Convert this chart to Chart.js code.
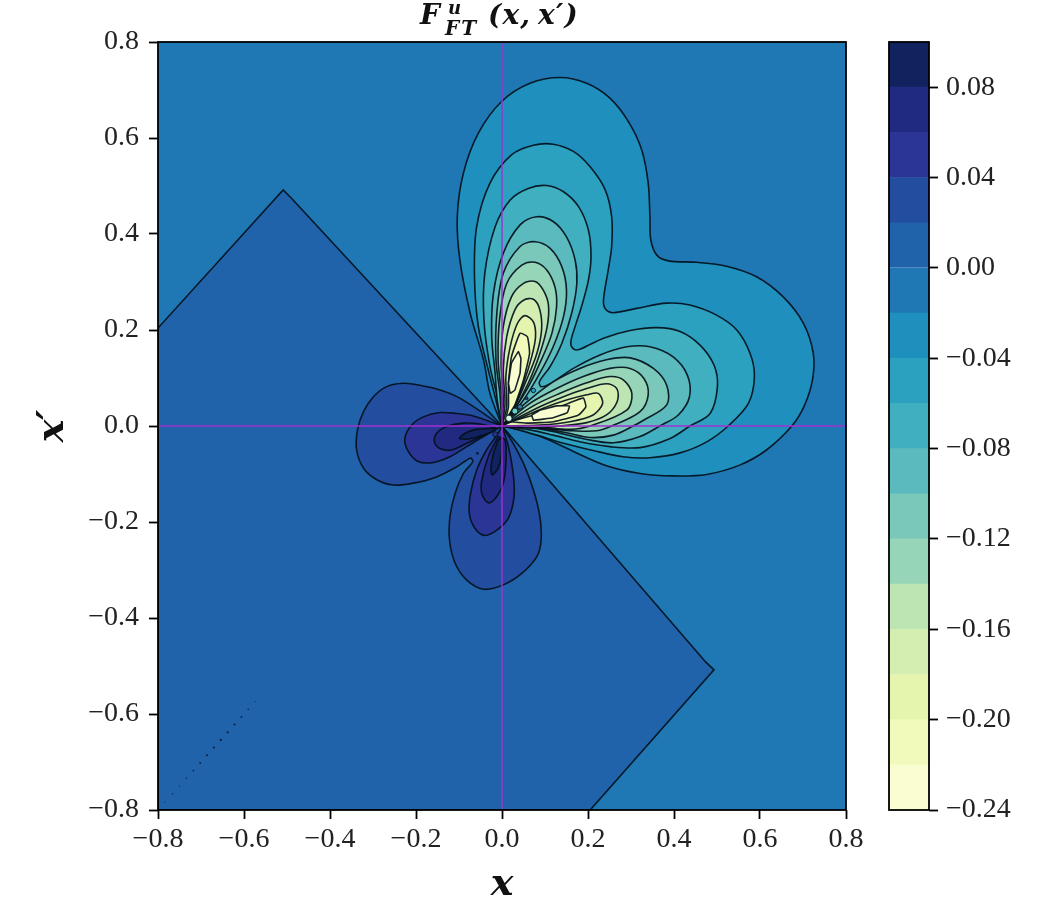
<!DOCTYPE html>
<html>
<head>
<meta charset="utf-8">
<title>F_FT^u contour plot</title>
<script src="https://cdn.jsdelivr.net/npm/chart.js@4"></script>
<style>
  html, body { margin: 0; padding: 0; background: #fff; }
  body { position: relative; width: 1053px; height: 921px; overflow: hidden; }
  canvas { position: absolute; top: 0; }
  #plot { left: 0; }
  #cbar { left: 880px; }
  #title { position: absolute; left: 420px; top: 0; height: 40px; font: italic bold 28px "DejaVu Serif", serif; color: #111; white-space: nowrap; line-height: 34px; }
  #title span { position: absolute; }
</style>
</head>
<body>
<canvas id="plot" width="888" height="921"></canvas>
<canvas id="cbar" width="173" height="921"></canvas>
<div id="title">
  <span style="left:0;top:-2px">F</span>
  <span style="left:28px;top:-1px;font-size:18px;line-height:18px">u</span>
  <span style="left:25px;top:18px;font-size:20px;line-height:20px;letter-spacing:2px">FT</span>
  <span style="left:68px;top:-2px;letter-spacing:1.2px">(x,&#8201;x&#8242;)</span>
</div>
<script>
// axis ticks
const xTicks = [-0.8, -0.6, -0.4, -0.2, 0, 0.2, 0.4, 0.6, 0.8];
const yTicks = [-0.8, -0.6, -0.4, -0.2, 0, 0.2, 0.4, 0.6, 0.8];
const cbarTicks = [-0.24, -0.20, -0.16, -0.12, -0.08, -0.04, 0, 0.04, 0.08];

// colorbar bands, bottom to top
const cbarLevels = [-0.24, -0.22, -0.20, -0.18, -0.16, -0.14, -0.12, -0.10, -0.08, -0.06, -0.04, -0.02, 0, 0.02, 0.04, 0.06, 0.08, 0.10];
const cbarColors = ['#fafdd2', '#f1fabb', '#e6f5ad', '#d4eeb2', '#bde5b4', '#96d5b7', '#79c8b9', '#5bbabd', '#40b0c0', '#2ca1bf', '#1f8fbd', '#1f78b4', '#2063aa', '#234d9e', '#2a3595', '#1f2a80', '#10235f'];

// contour lines, as [x, x'] pairs
const contourZero = [[-0.8, 0.204], [-0.509, 0.492], [-0.488, 0.473], [0, 0], [0.474, -0.492], [0.493, -0.508], [0.205, -0.8], [-0.8, -0.8], [-0.8, 0.204]];

const contourP02 = [[0, 0], [-0.098, 0.058], [-0.144, 0.075], [-0.191, 0.085], [-0.229, 0.089], [-0.268, 0.082], [-0.299, 0.061], [-0.322, 0.030], [-0.336, -0.008], [-0.338, -0.050], [-0.322, -0.088], [-0.291, -0.112], [-0.253, -0.123], [-0.206, -0.119], [-0.152, -0.106], [-0.105, -0.085], [-0.074, -0.067], [-0.068, -0.074], [-0.090, -0.099], [-0.109, -0.140], [-0.121, -0.189], [-0.122, -0.238], [-0.109, -0.286], [-0.082, -0.321], [-0.043, -0.340], [0.003, -0.331], [0.046, -0.307], [0.081, -0.272], [0.091, -0.238], [0.088, -0.189], [0.073, -0.133], [0.050, -0.078], [0.026, -0.036], [0, 0]];
const contourP04Left = [[0, 0], [-0.067, 0.021], [-0.105, 0.026], [-0.144, 0.028], [-0.183, 0.019], [-0.210, 0.002], [-0.226, -0.026], [-0.218, -0.053], [-0.195, -0.074], [-0.160, -0.076], [-0.121, -0.064], [-0.082, -0.043], [-0.043, -0.022], [0, 0]];
const contourP04Down = [[0, 0], [-0.012, -0.019], [-0.036, -0.050], [-0.059, -0.092], [-0.073, -0.140], [-0.076, -0.182], [-0.063, -0.213], [-0.040, -0.228], [-0.012, -0.217], [0.015, -0.192], [0.028, -0.147], [0.026, -0.099], [0.015, -0.043], [0, 0]];
const contourP06Left = [[-0.012, -0.005], [-0.051, 0.004], [-0.090, 0.006], [-0.129, -0.001], [-0.152, -0.015], [-0.157, -0.033], [-0.144, -0.047], [-0.117, -0.050], [-0.082, -0.036], [-0.043, -0.019], [-0.012, -0.005]];
const contourP06Down = [[-0.009, -0.022], [-0.032, -0.064], [-0.047, -0.113], [-0.047, -0.140], [-0.032, -0.160], [-0.012, -0.147], [0.003, -0.119], [0.009, -0.078], [0.007, -0.029], [-0.009, -0.022]];
const contourP08Left = [[-0.016, -0.005], [-0.059, -0.007], [-0.086, -0.015], [-0.099, -0.026], [-0.078, -0.027], [-0.043, -0.019], [-0.016, -0.008], [-0.016, -0.005]];
const contourP08Down = [[-0.009, -0.029], [-0.020, -0.057], [-0.026, -0.092], [-0.022, -0.102], [-0.009, -0.088], [-0.001, -0.057], [-0.001, -0.026], [-0.009, -0.029]];

const contourM02 = [[0, 0], [-0.028, 0.068], [-0.043, 0.138], [-0.074, 0.235], [-0.098, 0.346], [-0.104, 0.436], [-0.090, 0.526], [-0.055, 0.610], [-0.001, 0.676], [0.065, 0.714], [0.135, 0.726], [0.197, 0.714], [0.251, 0.683], [0.294, 0.634], [0.325, 0.575], [0.340, 0.506], [0.344, 0.436], [0.346, 0.388], [0.360, 0.356], [0.387, 0.344], [0.453, 0.341], [0.522, 0.333], [0.592, 0.311], [0.654, 0.269], [0.701, 0.214], [0.724, 0.151], [0.722, 0.096], [0.703, 0.042], [0.674, 0], [0.615, -0.050], [0.554, -0.081], [0.476, -0.101], [0.398, -0.104], [0.321, -0.099], [0.243, -0.083], [0.166, -0.053], [0.096, -0.024], [0.042, -0.008], [0, 0]];
const contourM04 = [[0, 0], [-0.016, 0.061], [-0.032, 0.117], [-0.055, 0.207], [-0.064, 0.311], [-0.059, 0.415], [-0.028, 0.506], [0.022, 0.565], [0.073, 0.585], [0.119, 0.587], [0.166, 0.572], [0.205, 0.540], [0.240, 0.492], [0.255, 0.436], [0.255, 0.374], [0.247, 0.325], [0.236, 0.262], [0.241, 0.243], [0.259, 0.236], [0.313, 0.245], [0.383, 0.256], [0.437, 0.252], [0.499, 0.231], [0.546, 0.200], [0.577, 0.151], [0.587, 0.103], [0.573, 0.047], [0.526, 0], [0.476, -0.033], [0.414, -0.056], [0.344, -0.066], [0.282, -0.064], [0.212, -0.051], [0.143, -0.036], [0.081, -0.019], [0.034, -0.007], [0, 0]];
const contourM06 = [[0, 0], [-0.009, 0.054], [-0.028, 0.124], [-0.042, 0.221], [-0.040, 0.318], [-0.016, 0.415], [0.019, 0.471], [0.061, 0.495], [0.104, 0.501], [0.143, 0.488], [0.178, 0.457], [0.201, 0.408], [0.207, 0.353], [0.201, 0.304], [0.185, 0.249], [0.170, 0.207], [0.160, 0.174], [0.167, 0.160], [0.181, 0.160], [0.236, 0.183], [0.298, 0.199], [0.360, 0.205], [0.414, 0.197], [0.460, 0.169], [0.493, 0.127], [0.501, 0.082], [0.484, 0.026], [0.437, 0], [0.391, -0.026], [0.321, -0.045], [0.251, -0.043], [0.181, -0.033], [0.119, -0.019], [0.065, -0.008], [0, 0]];
const contourM08 = [[0, 0], [-0.011, 0.054], [-0.016, 0.110], [-0.024, 0.186], [-0.020, 0.276], [0.003, 0.360], [0.042, 0.419], [0.081, 0.436], [0.119, 0.426], [0.150, 0.394], [0.170, 0.346], [0.174, 0.297], [0.162, 0.235], [0.139, 0.172], [0.112, 0.124], [0.087, 0.092], [0.091, 0.082], [0.112, 0.088], [0.166, 0.120], [0.228, 0.148], [0.290, 0.165], [0.344, 0.165], [0.398, 0.144], [0.431, 0.106], [0.436, 0.061], [0.410, 0.023], [0.367, 0], [0.321, -0.022], [0.259, -0.035], [0.197, -0.028], [0.135, -0.015], [0.081, -0.005], [0, 0]];

const contourM10Up = [[0, 0], [-0.005, 0.068], [-0.014, 0.138], [-0.012, 0.235], [0.003, 0.318], [0.042, 0.374], [0.077, 0.384], [0.112, 0.370], [0.139, 0.332], [0.150, 0.283], [0.143, 0.228], [0.119, 0.165], [0.088, 0.110], [0.050, 0.054], [0, 0]];
const contourM10Right = [[0, 0], [0.050, 0.044], [0.119, 0.092], [0.181, 0.120], [0.243, 0.138], [0.298, 0.142], [0.352, 0.120], [0.383, 0.085], [0.383, 0.044], [0.329, 0.012], [0.305, 0], [0.259, -0.019], [0.205, -0.024], [0.150, -0.014], [0.096, -0.006], [0.042, -0.002], [0, 0]];
const contourM12Up = [[0, 0], [-0.001, 0.061], [-0.009, 0.138], [-0.005, 0.228], [0.011, 0.297], [0.046, 0.335], [0.077, 0.341], [0.104, 0.325], [0.123, 0.290], [0.127, 0.249], [0.116, 0.193], [0.088, 0.131], [0.057, 0.075], [0.011, 0.012], [0, 0]];
const contourM12Right = [[0, 0], [0.065, 0.047], [0.127, 0.078], [0.189, 0.103], [0.251, 0.120], [0.298, 0.120], [0.330, 0.099], [0.340, 0.065], [0.321, 0.030], [0.255, 0], [0.220, -0.010], [0.166, -0.010], [0.112, -0.006], [0.057, -0.001], [0, 0]];
const contourM14Up = [[0, 0], [0.003, 0.054], [-0.002, 0.131], [0.003, 0.207], [0.022, 0.269], [0.050, 0.297], [0.077, 0.301], [0.096, 0.283], [0.108, 0.252], [0.105, 0.207], [0.088, 0.151], [0.061, 0.089], [0.019, 0.019], [0, 0]];
const contourM14Right = [[0, 0], [0.077, 0.044], [0.135, 0.068], [0.197, 0.090], [0.251, 0.103], [0.282, 0.096], [0.302, 0.068], [0.290, 0.033], [0.205, 0], [0.158, -0.007], [0.096, -0.003], [0.042, -0.001], [0, 0]];
const contourM16Up = [[0, 0], [0.007, 0.047], [0.003, 0.117], [0.011, 0.186], [0.030, 0.242], [0.050, 0.262], [0.073, 0.264], [0.088, 0.242], [0.092, 0.200], [0.081, 0.151], [0.057, 0.096], [0.022, 0.026], [0, 0]];
const contourM16Right = [[0, 0], [0.088, 0.040], [0.143, 0.061], [0.197, 0.078], [0.243, 0.088], [0.267, 0.078], [0.268, 0.051], [0.243, 0.023], [0.197, 0.007], [0.135, 0], [0.073, -0.003], [0, 0]];
const contourM18Up = [[0, 0], [0.011, 0.040], [0.009, 0.103], [0.019, 0.165], [0.036, 0.214], [0.053, 0.230], [0.073, 0.217], [0.078, 0.186], [0.069, 0.144], [0.050, 0.089], [0.025, 0.033], [0, 0]];
const contourM18Right = [[0, 0], [0.096, 0.037], [0.150, 0.054], [0.197, 0.065], [0.224, 0.068], [0.234, 0.047], [0.212, 0.023], [0.158, 0.009], [0.088, 0.002], [0, 0]];
const contourM20Up = [[0.008, 0.012], [0.015, 0.040], [0.015, 0.089], [0.022, 0.144], [0.042, 0.193], [0.059, 0.186], [0.064, 0.151], [0.050, 0.096], [0.030, 0.044], [0.008, 0.012]];
const contourM20Right = [[0.019, 0.009], [0.112, 0.033], [0.154, 0.047], [0.189, 0.058], [0.195, 0.040], [0.178, 0.023], [0.119, 0.009], [0.057, 0.006], [0.019, 0.009]];
const contourM22Up = [[0.015, 0.089], [0.022, 0.131], [0.038, 0.155], [0.044, 0.141], [0.042, 0.110], [0.030, 0.075], [0.019, 0.068], [0.015, 0.089]];
const contourM22Right = [[0.069, 0.023], [0.088, 0.033], [0.127, 0.042], [0.157, 0.042], [0.152, 0.028], [0.119, 0.017], [0.073, 0.012], [0.069, 0.023]];

// little closed rings on the diagonal and specks near the origin
const ringPoints = [[0.073, 0.074], [0.057, 0.058], [0.042, 0.040], [0.030, 0.031], [0.016, 0.016], [-0.016, -0.017], [-0.057, -0.057]];
// row of dots along the lower left diagonal
const dotX = [-0.574, -0.590, -0.606, -0.622, -0.638, -0.654, -0.670, -0.686, -0.702, -0.718, -0.734, -0.750, -0.766, -0.784];
const dotY = [-0.574, -0.590, -0.606, -0.622, -0.638, -0.654, -0.670, -0.686, -0.702, -0.718, -0.734, -0.750, -0.766, -0.784];

const serif = '"Liberation Serif", serif';
const mathSerif = '"DejaVu Serif", serif';
const band = v => cbarColors[cbarLevels.findIndex(l => Math.abs(l - v) < 1e-6)];
const toXY = pts => pts.map(p => ({x: p[0], y: p[1]}));

// painter's order, background upwards: [points, band lower edge, tension]
const layers = [
    [contourZero, 0, 0],
    [contourP02, 0.02, 0.33],
    [contourP04Left, 0.04, 0.33],
    [contourP04Down, 0.04, 0.33],
    [contourP06Left, 0.06, 0.33],
    [contourP06Down, 0.06, 0.33],
    [contourP08Left, 0.08, 0.2],
    [contourP08Down, 0.08, 0.2],
    [contourM02, -0.04, 0.33],
    [contourM04, -0.06, 0.33],
    [contourM06, -0.08, 0.33],
    [contourM08, -0.10, 0.33],
    [contourM10Up, -0.12, 0.33],
    [contourM10Right, -0.12, 0.33],
    [contourM12Up, -0.14, 0.33],
    [contourM12Right, -0.14, 0.33],
    [contourM14Up, -0.16, 0.33],
    [contourM14Right, -0.16, 0.33],
    [contourM16Up, -0.18, 0.33],
    [contourM16Right, -0.18, 0.33],
    [contourM18Up, -0.20, 0.3],
    [contourM18Right, -0.20, 0.3],
    [contourM20Up, -0.22, 0.15],
    [contourM20Right, -0.22, 0.15],
    [contourM22Up, -0.24, 0.05],
    [contourM22Right, -0.24, 0.05]
];

const lineColor = 'rgba(3, 16, 28, 0.92)';
const datasets = layers.map((l, i) => ({
    data: toXY(l[0]),
    showLine: true,
    fill: 'shape',
    backgroundColor: band(l[1]),
    borderColor: lineColor,
    borderWidth: 1.6,
    tension: l[2],
    pointRadius: 0,
    order: 100 - i
}));

datasets.push({
    data: toXY(ringPoints),
    pointRadius: [2.2, 1.5, 2.4, 3, 3.2, 2.4, 0.9],
    pointBackgroundColor: ['#2a9cc0', '#1f4f80', '#2f7f9f', '#66d0c8', '#d8f5e0', '#2a3595', '#10235f'],
    pointBorderColor: lineColor,
    pointBorderWidth: 1,
    order: 5
});
datasets.push({
    data: dotX.map((v, i) => ({x: v, y: dotY[i]})),
    pointRadius: [0.5, 0.8, 0.9, 1, 1.1, 1.1, 1.1, 1, 0.9, 0.8, 0.7, 0.6, 0.6, 0.5],
    pointBackgroundColor: '#0a1c40',
    pointBorderWidth: 0,
    order: 4
});
// magenta cross hairs
const crossColor = '#a032d2';
datasets.push({
    data: [{x: -0.8, y: 0}, {x: 0.8, y: 0}],
    showLine: true, borderColor: crossColor, borderWidth: 1.4, pointRadius: 0, order: 2
});
datasets.push({
    data: [{x: 0, y: -0.8}, {x: 0, y: 0.8}],
    showLine: true, borderColor: crossColor, borderWidth: 1.4, pointRadius: 0, order: 1
});

// box round the plot area
const frame = {
    id: 'frame',
    afterDraw(chart) {
        const a = chart.chartArea, c = chart.ctx;
        c.save();
        c.strokeStyle = '#000';
        c.lineWidth = 1.8;
        c.strokeRect(a.left, a.top, a.right - a.left, a.bottom - a.top);
        c.restore();
    }
};
// plot background is the 0 to -0.02 band
const plotBack = {
    id: 'plotBack',
    beforeDraw(chart) {
        const a = chart.chartArea, c = chart.ctx;
        c.fillStyle = band(-0.02);
        c.fillRect(a.left, a.top, a.right - a.left, a.bottom - a.top);
    }
};

const tickFont = {family: serif, size: 28};
const tickText = (v, n) => (v < -1e-9 ? '\u2212' : '') + Math.abs(v).toFixed(n);
const tickGrid = {drawOnChartArea: false, drawTicks: true, tickLength: 9, tickWidth: 1.8, tickColor: '#000'};

new Chart(document.getElementById('plot').getContext('2d'), {
    type: 'scatter',
    data: {datasets: datasets},
    plugins: [plotBack, frame],
    options: {
        responsive: false,
        animation: false,
        events: [],
        devicePixelRatio: 1,
        layout: {padding: {top: 42, right: 42, left: 0, bottom: 0}},
        plugins: {legend: {display: false}, tooltip: {enabled: false}},
        scales: {
            x: {
                type: 'linear', min: -0.8, max: 0.8,
                afterBuildTicks: s => { s.ticks = xTicks.map(v => ({value: v})); },
                afterFit: s => { s.height = 111; },
                grid: tickGrid,
                border: {display: false},
                ticks: {color: '#222', font: tickFont, maxRotation: 0, autoSkip: false, padding: 4, callback: v => tickText(v, 1)},
                title: {display: true, text: 'x', color: '#111', font: {family: mathSerif, size: 38, style: 'italic', weight: 'bold'}, padding: {top: 0, bottom: 13}}
            },
            y: {
                type: 'linear', min: -0.8, max: 0.8,
                afterBuildTicks: s => { s.ticks = yTicks.map(v => ({value: v})); },
                afterFit: s => { s.width = 158; },
                grid: tickGrid,
                border: {display: false},
                ticks: {color: '#222', font: tickFont, autoSkip: false, padding: 10, callback: v => tickText(v, 1)},
                title: {display: true, text: 'x\u2032', color: '#111', font: {family: mathSerif, size: 38, style: 'italic', weight: 'bold'}, padding: {top: 30, bottom: 0}}
            }
        }
    }
});

// colorbar
new Chart(document.getElementById('cbar').getContext('2d'), {
    type: 'bar',
    data: {
        labels: [''],
        datasets: cbarColors.map((c, i) => ({
            data: [[cbarLevels[i], cbarLevels[i + 1]]],
            backgroundColor: c,
            borderWidth: 0,
            grouped: false,
            barPercentage: 1,
            categoryPercentage: 1
        }))
    },
    plugins: [frame],
    options: {
        responsive: false,
        animation: false,
        events: [],
        devicePixelRatio: 1,
        layout: {padding: {top: 42, bottom: 111, left: 9, right: 0}},
        plugins: {legend: {display: false}, tooltip: {enabled: false}},
        scales: {
            x: {display: false},
            y: {
                position: 'right',
                min: -0.24, max: 0.10,
                afterBuildTicks: s => { s.ticks = cbarTicks.map(v => ({value: v})); },
                afterFit: s => { s.width = 124; },
                grid: tickGrid,
                border: {display: false},
                ticks: {color: '#222', font: tickFont, autoSkip: false, padding: 8, crossAlign: 'near', callback: v => tickText(v, 2)}
            }
        }
    }
});
</script>
</body>
</html>
